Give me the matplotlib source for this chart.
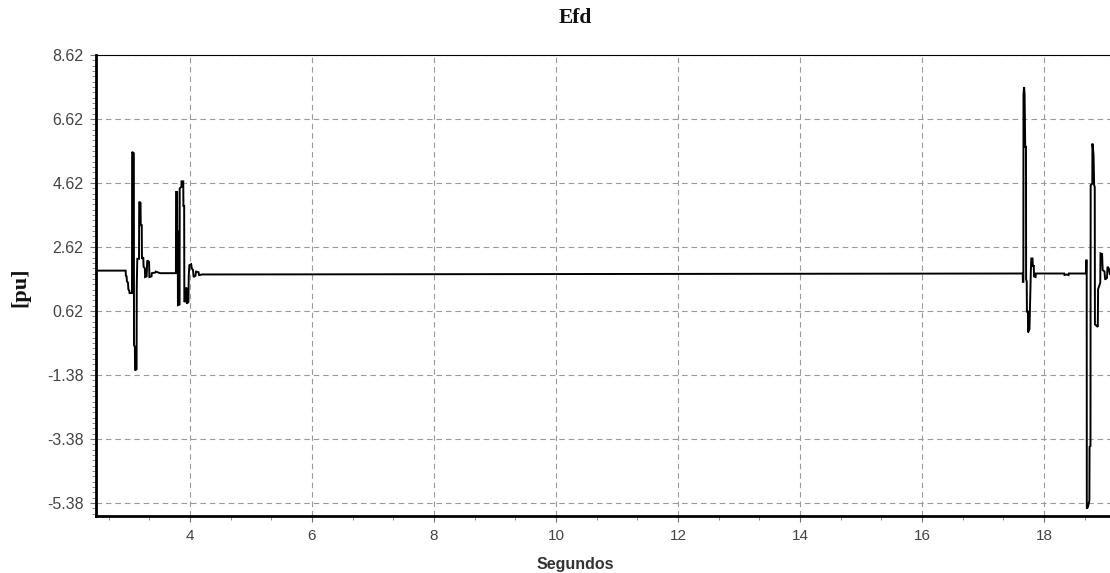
import matplotlib
matplotlib.use("Agg")
import matplotlib.pyplot as plt
from matplotlib.ticker import FixedLocator, MultipleLocator, AutoMinorLocator

# Field voltage Efd [pu] versus time [s]
time_s = [
    2.45, 2.946, 2.950, 2.962, 2.966, 2.985, 2.990, 3.005, 3.010, 3.050,
    3.052, 3.080, 3.083, 3.097, 3.100, 3.125, 3.128, 3.137, 3.165, 3.168,
    3.190, 3.193, 3.210, 3.213, 3.235, 3.240, 3.262, 3.265, 3.290, 3.300,
    3.330, 3.335, 3.370, 3.375, 3.430, 3.440, 3.510,
    3.770, 3.772, 3.790, 3.792, 3.800, 3.803, 3.830, 3.832, 3.860, 3.862,
    3.890, 3.893, 3.905, 3.908, 3.930, 3.935, 3.945, 3.948, 3.975, 3.980,
    3.990, 4.020, 4.030, 4.050, 4.060, 4.090, 4.100, 4.140, 4.150, 4.200,
    4.300,
    17.650, 17.652, 17.660, 17.662, 17.672, 17.680, 17.690, 17.703, 17.705,
    17.715, 17.718, 17.735, 17.737, 17.760, 17.783, 17.790, 17.810, 17.815,
    17.830, 17.835, 17.860, 17.865, 17.960,
    18.330, 18.335, 18.370, 18.400, 18.405,
    18.688, 18.690, 18.698, 18.700, 18.720, 18.742, 18.745, 18.760, 18.763,
    18.790, 18.792, 18.810, 18.820, 18.830, 18.833, 18.880, 18.885, 18.920,
    18.925, 18.950, 18.960, 18.990, 19.000, 19.030, 19.040, 19.060, 19.080,
    19.100,
]
efd_pu = [
    1.88, 1.88, 1.72, 1.70, 1.55, 1.50, 1.30, 1.25, 1.18, 1.18,
    5.59, 5.55, -0.45, -0.50, -1.24, -1.20, 1.40, 2.25, 2.25, 4.03,
    4.00, 3.30, 3.30, 2.25, 2.30, 2.00, 1.95, 1.68, 1.70, 2.20,
    2.15, 1.68, 1.70, 1.80, 1.82, 1.85, 1.80,
    1.80, 4.34, 4.34, 3.10, 3.10, 0.80, 0.82, 4.45, 4.50, 4.67,
    4.67, 3.90, 3.90, 0.90, 0.95, 1.30, 1.35, 0.85, 0.90, 1.70,
    2.05, 2.08, 1.95, 1.90, 1.68, 1.72, 1.85, 1.83, 1.74, 1.76,
    1.76,
    1.79, 1.53, 1.53, 7.40, 7.62, 7.40, 5.75, 5.75, 1.60,
    1.55, 0.60, 0.60, -0.05, 0.05, 1.90, 2.26, 2.26, 2.00,
    2.05, 1.70, 1.68, 1.79, 1.79,
    1.79, 1.74, 1.76, 1.74, 1.79,
    1.79, 2.20, 2.20, -5.56, -5.50, -5.30, -3.63, -3.60, 4.55,
    4.60, 5.85, 5.50, 4.55, 4.50, 0.20, 0.12, 1.30, 1.50,
    2.42, 2.40, 1.90, 1.85, 1.60, 1.65, 2.00, 1.95, 1.75,
    1.80,
]

y_ticks = [8.62, 6.62, 4.62, 2.62, 0.62, -1.38, -3.38, -5.38]
y_tick_labels = ["8.62", "6.62", "4.62", "2.62", "0.62", "-1.38", "-3.38", "-5.38"]
x_ticks = [4, 6, 8, 10, 12, 14, 16, 18]

W, H = 1110, 573
fig = plt.figure(figsize=(W / 100, H / 100), dpi=100)
fig.patch.set_facecolor("white")

left_px, right_px, top_px, bottom_px = 96, 1110, 55, 516
ax = fig.add_axes([left_px / W, 1 - bottom_px / H,
                   (right_px - left_px) / W, (bottom_px - top_px) / H])

ax.plot(time_s, efd_pu, color="black", lw=1.4, solid_joinstyle="miter")

ax.set_xlim(2.46, 19.08)
ax.set_ylim(-5.79, 8.62)

ax.yaxis.set_major_locator(FixedLocator(y_ticks))
ax.set_yticklabels(y_tick_labels)
ax.yaxis.set_minor_locator(AutoMinorLocator(12))
ax.xaxis.set_major_locator(FixedLocator(x_ticks))
ax.xaxis.set_minor_locator(MultipleLocator(2 / 3))

ax.grid(True, which="major", color="#9a9a9a", lw=0.8, ls=(0, (5, 3.5)))
ax.set_axisbelow(True)

for side in ("left", "bottom"):
    ax.spines[side].set_linewidth(2.0)
    ax.spines[side].set_color("black")
ax.spines["top"].set_linewidth(0.8)
ax.spines["right"].set_visible(False)

ax.tick_params(axis="both", which="major", direction="out", length=4,
               width=0.8, color="#707070", labelcolor="#444444", pad=5)
ax.tick_params(axis="both", which="minor", direction="out", length=3,
               width=0.7, color="#8a8a8a")

for lab in ax.get_yticklabels():
    lab.set_fontfamily(["Liberation Sans", "DejaVu Sans"])
    lab.set_fontsize(11.5)
for lab in ax.get_xticklabels():
    lab.set_fontfamily(["Liberation Sans", "DejaVu Sans"])
    lab.set_fontsize(11)

fig.text(575 / W, 1 - 18 / H, "Efd", ha="center", va="center",
         fontsize=15.5, fontweight="bold",
         fontfamily=["Liberation Serif", "DejaVu Serif"], color="#111111")
fig.text(20 / W, 1 - 287 / H, "[pu]", ha="center", va="center", rotation=90,
         fontsize=16, fontweight="bold",
         fontfamily=["Liberation Serif", "DejaVu Serif"], color="#111111")
fig.text(575 / W, 1 - 565 / H, "Segundos", ha="center", va="center",
         fontsize=11.5, fontweight="bold",
         fontfamily=["Liberation Sans", "DejaVu Sans"], color="#333333")

fig.savefig("out.png", dpi=100)
